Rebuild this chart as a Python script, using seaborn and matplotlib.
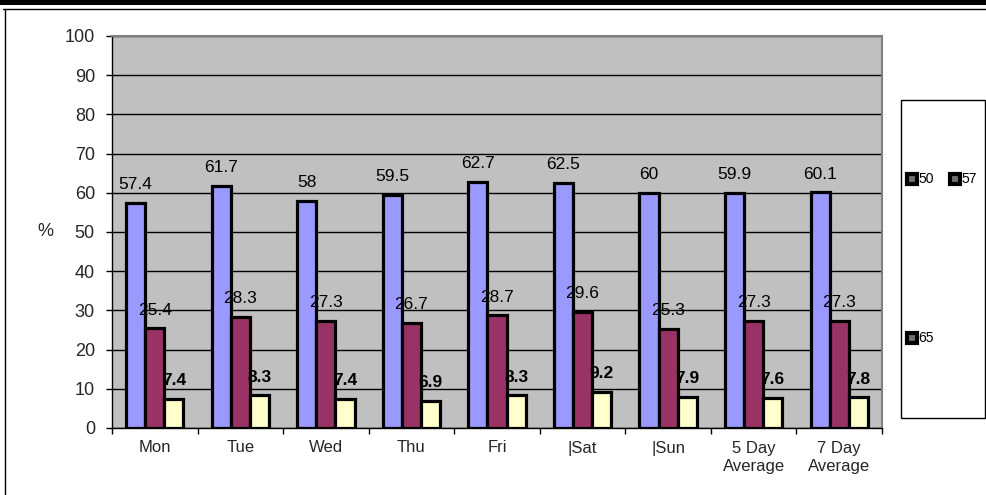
import matplotlib
matplotlib.use("Agg")
import matplotlib.pyplot as plt
import seaborn as sns
import pandas as pd
from matplotlib.patches import Rectangle
from matplotlib.lines import Line2D

days = ["Mon", "Tue", "Wed", "Thu", "Fri", "|Sat", "|Sun", "5 Day\nAverage", "7 Day\nAverage"]
series_names = ["50", "57", "65"]
vals_50 = [57.4, 61.7, 58, 59.5, 62.7, 62.5, 60, 59.9, 60.1]
vals_57 = [25.4, 28.3, 27.3, 26.7, 28.7, 29.6, 25.3, 27.3, 27.3]
vals_65 = [7.4, 8.3, 7.4, 6.9, 8.3, 9.2, 7.9, 7.6, 7.8]
yticks = [0, 10, 20, 30, 40, 50, 60, 70, 80, 90, 100]

colors = ["#9999FF", "#993366", "#FFFFCC"]

sns.set_theme(style="white")
plt.rcParams["font.family"] = ["Liberation Sans", "DejaVu Sans"]

rows = []
for name, vals in zip(series_names, [vals_50, vals_57, vals_65]):
    for d, v in zip(days, vals):
        rows.append({"day": d, "group": name, "value": v})
df = pd.DataFrame(rows)

W, H = 986, 495
fig = plt.figure(figsize=(W / 100, H / 100), dpi=100)
fig.patch.set_facecolor("white")
ax = fig.add_axes([112 / W, 1 - 428 / H, 770 / W, 392 / H])
ax.set_facecolor("#C0C0C0")

sns.barplot(data=df, x="day", y="value", hue="group", order=days,
            hue_order=series_names, palette=colors, width=0.67, gap=0,
            edgecolor="black", linewidth=2.3, saturation=1, legend=False, ax=ax)

ax.set_ylim(0, 100)
ax.set_xlim(-0.5, len(days) - 0.5)
ax.set_yticks(yticks)
ax.set_yticklabels([str(t) for t in yticks], fontsize=13)
ax.yaxis.grid(True, color="black", linewidth=1)
ax.set_axisbelow(True)

ax.tick_params(axis="y", which="major", direction="out", length=4.3, width=1,
               color="black", pad=8, left=True)
ax.set_xticks(range(len(days)))
ax.set_xticklabels(days, fontsize=12, linespacing=1.3)
ax.tick_params(axis="x", which="major", length=0, pad=9)
ax.set_xticks([i - 0.5 for i in range(len(days) + 1)], minor=True)
ax.tick_params(axis="x", which="minor", direction="out", length=4, width=1,
               color="black", bottom=True)

ax.set_xlabel("")
ax.set_ylabel("%", rotation=0, fontsize=13, ha="center", va="center")
ax.yaxis.set_label_coords((45 - 112) / 770, 0.5)

for side in ["top", "right"]:
    ax.spines[side].set_color("#808080")
    ax.spines[side].set_linewidth(1.5)
for side in ["left", "bottom"]:
    ax.spines[side].set_color("black")
    ax.spines[side].set_linewidth(1)

bold = [False, False, True]
for ci, cont in enumerate(ax.containers):
    for p in cont.patches:
        h = p.get_height()
        ax.annotate(f"{h:g}", (p.get_x() + p.get_width() / 2, h),
                    xytext=(0, 10), textcoords="offset points",
                    ha="center", va="baseline", fontsize=12.5,
                    fontweight="bold" if bold[ci] else "normal", color="black")

# outer frame
fig.add_artist(Rectangle((0, 1 - 5 / H), 1, 5 / H, transform=fig.transFigure,
                         facecolor="black", edgecolor="none"))
fig.add_artist(Line2D([5 / W, 5 / W], [0, 1 - 9 / H], transform=fig.transFigure,
                      color="black", linewidth=1))
fig.add_artist(Line2D([3 / W, 1], [1 - 9 / H, 1 - 9 / H], transform=fig.transFigure,
                      color="black", linewidth=1))

# legend box
fig.add_artist(Rectangle((901 / W, 1 - 418 / H), 84 / W, 318 / H,
                         transform=fig.transFigure, facecolor="white",
                         edgecolor="black", linewidth=1))
leg_pos = [(912, 179), (955, 179), (912, 338)]
for name, (lx, ly) in zip(series_names, leg_pos):
    fig.add_artist(Line2D([lx / W], [1 - ly / H], transform=fig.transFigure,
                          marker="s", markersize=6.5, markerfacecolor="#707070",
                          markeredgecolor="black", markeredgewidth=3,
                          linestyle="none"))
    fig.text((lx + 6) / W, 1 - ly / H, name, fontsize=10, ha="left",
             va="center", color="black")

fig.savefig("out.png", dpi=100, facecolor="white")
